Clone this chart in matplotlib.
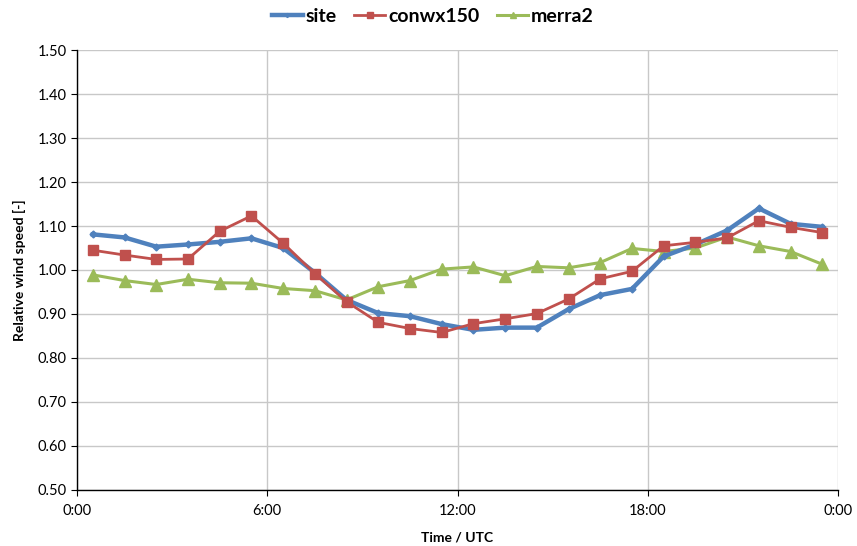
import numpy as np
import matplotlib.pyplot as plt
from matplotlib.ticker import FuncFormatter, MultipleLocator

plt.rcParams['font.family'] = ['Lato', 'DejaVu Sans']

# hours of day (values at half past each hour)
hours = np.arange(24) + 0.5

site = [1.081, 1.074, 1.053, 1.058, 1.064, 1.072, 1.050, 0.994, 0.932, 0.902, 0.895, 0.877,
        0.864, 0.869, 0.869, 0.911, 0.943, 0.957, 1.031, 1.058, 1.090, 1.140, 1.105, 1.098]
conwx150 = [1.045, 1.034, 1.024, 1.025, 1.088, 1.123, 1.061, 0.992, 0.928, 0.881, 0.867, 0.858,
            0.878, 0.889, 0.901, 0.934, 0.980, 0.997, 1.055, 1.063, 1.073, 1.112, 1.097, 1.085]
merra2 = [0.989, 0.976, 0.967, 0.979, 0.971, 0.970, 0.958, 0.953, 0.932, 0.962, 0.976, 1.002,
          1.007, 0.987, 1.008, 1.005, 1.017, 1.049, 1.042, 1.050, 1.075, 1.055, 1.042, 1.013]

fig = plt.figure(figsize=(8.57, 5.46), dpi=100)
ax = fig.add_axes([0.0898, 0.1026, 0.978 - 0.0898, 0.9084 - 0.1026])

ax.plot(hours, site, color='#4F81BD', lw=3.2, marker='D', ms=3.5, label='site', zorder=3)
ax.plot(hours, conwx150, color='#C0504D', lw=2, marker='s', ms=7, label='conwx150', zorder=4)
ax.plot(hours, merra2, color='#9BBB59', lw=2.2, marker='^', ms=8, label='merra2', zorder=2)

ax.set_xlim(0, 24)
ax.set_ylim(0.5, 1.5)
ax.xaxis.set_major_locator(MultipleLocator(6))
ax.xaxis.set_major_formatter(FuncFormatter(lambda v, p: '%d:00' % (int(v) % 24)))
ax.yaxis.set_major_locator(MultipleLocator(0.1))
ax.yaxis.set_major_formatter(FuncFormatter(lambda v, p: '%.2f' % v))

ax.grid(True, color='#C8C8C8', lw=1)
ax.set_axisbelow(True)
for s in ['top', 'right']:
    ax.spines[s].set_visible(False)
for s in ['left', 'bottom']:
    ax.spines[s].set_color('black')
    ax.spines[s].set_linewidth(1)
ax.tick_params(direction='out', length=4, labelsize=10.5, colors='black')
ax.tick_params(axis='x', pad=6)

ax.set_xlabel('Time / UTC', fontsize=10, fontweight='bold', labelpad=10)
ax.set_ylabel('Relative wind speed [-]', fontsize=10, fontweight='bold', labelpad=8)

leg = fig.legend(loc='upper center', bbox_to_anchor=(0.505, 1.018), ncol=3, frameon=False,
                 prop={'size': 14, 'weight': 'bold'}, handlelength=1.6, columnspacing=0.9,
                 handletextpad=0.15, markerscale=0.6)

fig.savefig('out.png', dpi=100)
